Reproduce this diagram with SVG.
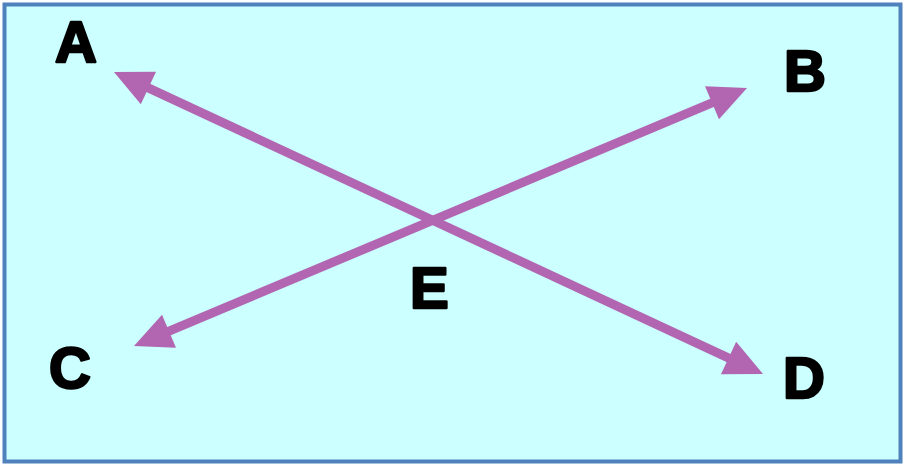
<svg xmlns="http://www.w3.org/2000/svg" width="905" height="466" viewBox="0 0 905 466">
<style>
.lbl{font-family:"Liberation Sans",Arial,sans-serif;font-weight:bold;font-size:58px;fill:#000;stroke:#000;stroke-width:2.5px;stroke-linejoin:round}
.ray{stroke:#B266B2;stroke-width:9;fill:none;marker-start:url(#ah);marker-end:url(#ah)}
</style>
<defs>
<marker id="ah" markerUnits="userSpaceOnUse" markerWidth="40" markerHeight="36" refX="18" refY="18" orient="auto-start-reverse" viewBox="0 0 38 36">
<path d="M0,0 L38,18 L0,36 Z" fill="#B266B2"/>
</marker>
</defs>
<rect x="4.5" y="4.5" width="896" height="457" fill="#CCFFFF" stroke="#4F81BD" stroke-width="4"/>
<g id="connectors">
<line class="ray" x1="132.1" y1="80.4" x2="744.9" y2="365.6"/>
<line class="ray" x1="152.4" y1="338.2" x2="728.6" y2="95.8"/>
</g>
<g id="A"><text class="lbl" x="55" y="62">A</text></g>
<g id="B"><text class="lbl" x="784" y="91">B</text></g>
<g id="C"><text class="lbl" x="49" y="388">C</text></g>
<g id="D"><text class="lbl" x="783" y="398">D</text></g>
<g id="E"><text class="lbl" x="410" y="308">E</text></g>
</svg>
